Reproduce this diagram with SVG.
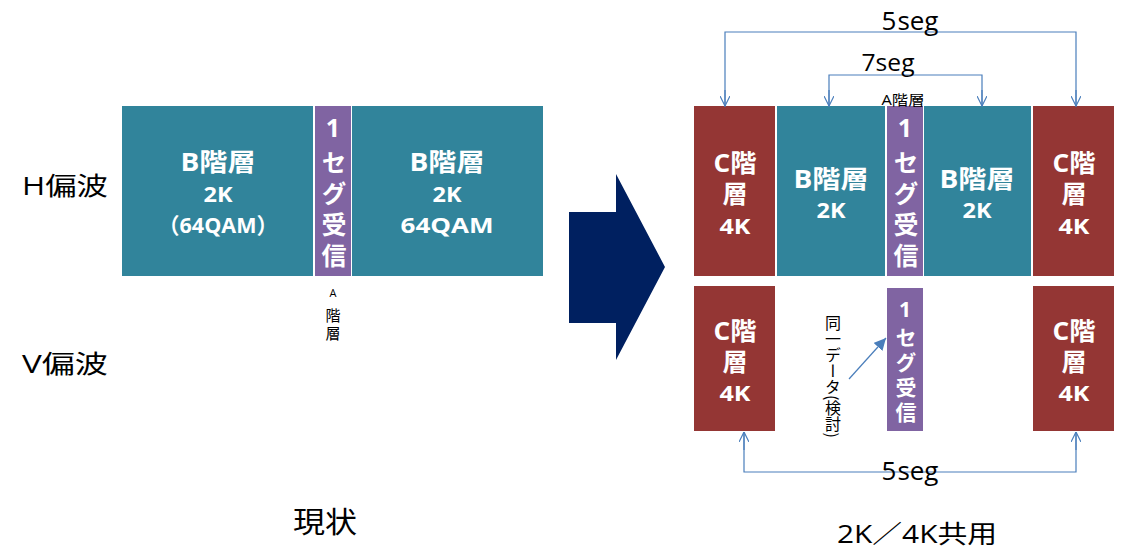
<svg xmlns="http://www.w3.org/2000/svg" width="1124" height="555" viewBox="0 0 1124 555">
<defs>
<style>
.b{fill:#31849b}
.c{fill:#943634}
.p{fill:#8064a2}
.w{fill:#fff;font-family:"Open Sans","Noto Sans CJK JP",sans-serif;font-weight:bold;text-anchor:middle}
.k{fill:#000;font-family:"Open Sans","Noto Sans CJK JP",sans-serif;text-anchor:middle}
.v{fill:#fff;font-family:"Open Sans","Noto Sans CJK JP",sans-serif;font-weight:bold;writing-mode:vertical-rl;text-orientation:upright}
.ln{fill:none;stroke:#4a7ebb;stroke-width:1.2}
</style>
<marker id="oa" viewBox="0 0 10 10" refX="10" refY="5" markerWidth="10" markerHeight="10" markerUnits="userSpaceOnUse" orient="auto">
<path d="M0,0 L10,5 L0,10" fill="none" stroke="#4a7ebb" stroke-width="1.2"/>
</marker>
<marker id="fa" viewBox="0 0 10 10" refX="10" refY="5" markerWidth="12" markerHeight="12" markerUnits="userSpaceOnUse" orient="auto">
<path d="M0,0 L10,5 L0,10 z" fill="#4a7ebb"/>
</marker>
</defs>
<rect width="1124" height="555" fill="#fff"/>

<text class="k" x="65" y="195" font-size="25" textLength="86" lengthAdjust="spacingAndGlyphs">H偏波</text>
<text class="k" x="65" y="373" font-size="25" textLength="86" lengthAdjust="spacingAndGlyphs">V偏波</text>
<text class="k" x="325" y="533" font-size="29" textLength="64" lengthAdjust="spacingAndGlyphs">現状</text>
<text class="k" x="917" y="543" font-size="25" textLength="160" lengthAdjust="spacingAndGlyphs">2K／4K共用</text>

<g id="left-b1">
<rect class="b" x="122" y="106" width="191" height="170"/>
<text class="w" x="218" y="171" font-size="25" textLength="75" lengthAdjust="spacingAndGlyphs">B階層</text>
<text class="w" x="218" y="202" font-size="21" textLength="29" lengthAdjust="spacingAndGlyphs">2K</text>
<text class="w" x="218" y="233" font-size="22" textLength="120" lengthAdjust="spacingAndGlyphs">（64QAM）</text>
</g>
<g id="left-a">
<rect class="p" x="315" y="106" width="36" height="170"/>
<text class="v" x="333" y="110" font-size="25" letter-spacing="6">1セグ受信</text>
<text class="k" x="333" y="297" font-size="11">A</text>
<text class="k" x="333" y="321" font-size="15">階</text>
<text class="k" x="333" y="339" font-size="15">層</text>
</g>
<g id="left-b2">
<rect class="b" x="352" y="106" width="191" height="170"/>
<text class="w" x="447" y="171" font-size="25" textLength="75" lengthAdjust="spacingAndGlyphs">B階層</text>
<text class="w" x="447" y="202" font-size="21" textLength="29" lengthAdjust="spacingAndGlyphs">2K</text>
<text class="w" x="447" y="233" font-size="22" textLength="93" lengthAdjust="spacingAndGlyphs">64QAM</text>
</g>

<g id="big-arrow">
<polygon points="569,212 616,212 616,174 665,267 616,360 616,323 569,323" fill="#002060"/>
</g>

<g id="r-c1">
<rect class="c" x="694" y="106" width="81" height="170"/>
<text class="w" x="735" y="172" font-size="25" textLength="43" lengthAdjust="spacingAndGlyphs">C階</text>
<text class="w" x="735" y="203" font-size="25">層</text>
<text class="w" x="735" y="234" font-size="21" textLength="31" lengthAdjust="spacingAndGlyphs">4K</text>
</g>
<g id="r-b1">
<rect class="b" x="777" y="106" width="108" height="170"/>
<text class="w" x="831" y="188" font-size="25" textLength="75" lengthAdjust="spacingAndGlyphs">B階層</text>
<text class="w" x="831" y="218" font-size="21" textLength="29" lengthAdjust="spacingAndGlyphs">2K</text>
</g>
<g id="r-a">
<rect class="p" x="887" y="106" width="36" height="170"/>
<text class="v" x="905" y="110" font-size="25" letter-spacing="6">1セグ受信</text>
<text class="k" x="903" y="105" font-size="14" textLength="43" lengthAdjust="spacingAndGlyphs">A階層</text>
</g>
<g id="r-b2">
<rect class="b" x="924" y="106" width="107" height="170"/>
<text class="w" x="977" y="188" font-size="25" textLength="75" lengthAdjust="spacingAndGlyphs">B階層</text>
<text class="w" x="977" y="218" font-size="21" textLength="29" lengthAdjust="spacingAndGlyphs">2K</text>
</g>
<g id="r-c2">
<rect class="c" x="1033" y="106" width="81" height="170"/>
<text class="w" x="1074" y="172" font-size="25" textLength="43" lengthAdjust="spacingAndGlyphs">C階</text>
<text class="w" x="1074" y="203" font-size="25">層</text>
<text class="w" x="1074" y="234" font-size="21" textLength="31" lengthAdjust="spacingAndGlyphs">4K</text>
</g>

<g id="v-c1">
<rect class="c" x="694" y="286" width="81" height="145"/>
<text class="w" x="735" y="340" font-size="25" textLength="43" lengthAdjust="spacingAndGlyphs">C階</text>
<text class="w" x="735" y="371" font-size="25">層</text>
<text class="w" x="735" y="401" font-size="21" textLength="31" lengthAdjust="spacingAndGlyphs">4K</text>
</g>
<g id="v-a">
<rect class="p" x="887" y="288" width="36" height="143"/>
<text class="v" x="905" y="295" font-size="21" letter-spacing="4">1セグ受信</text>
</g>
<g id="v-c2">
<rect class="c" x="1033" y="286" width="81" height="145"/>
<text class="w" x="1074" y="340" font-size="25" textLength="43" lengthAdjust="spacingAndGlyphs">C階</text>
<text class="w" x="1074" y="371" font-size="25">層</text>
<text class="w" x="1074" y="401" font-size="21" textLength="31" lengthAdjust="spacingAndGlyphs">4K</text>
</g>

<g id="note">
<text x="833" y="315" font-size="16" writing-mode="vertical-rl" font-family="'Noto Sans CJK JP',sans-serif" fill="#000">同一データ(検討)</text>
</g>

<g id="connectors">
<polyline class="ln" points="725,107 725,32 1076,32 1076,107"/>
<line class="ln" x1="725" y1="90" x2="725" y2="106" marker-end="url(#oa)"/>
<line class="ln" x1="1076" y1="90" x2="1076" y2="106" marker-end="url(#oa)"/>
<polyline class="ln" points="829,107 829,75 982,75 982,107"/>
<line class="ln" x1="829" y1="90" x2="829" y2="106" marker-end="url(#oa)"/>
<line class="ln" x1="982" y1="90" x2="982" y2="106" marker-end="url(#oa)"/>
<polyline class="ln" points="744,432 744,472 1076,472 1076,432"/>
<line class="ln" x1="744" y1="450" x2="744" y2="432" marker-end="url(#oa)"/>
<line class="ln" x1="1076" y1="450" x2="1076" y2="432" marker-end="url(#oa)"/>
<line class="ln" x1="849" y1="379" x2="886" y2="338" marker-end="url(#fa)"/>
</g>
<text class="k" x="910" y="30" font-size="26">5<tspan dx="1">seg</tspan></text>
<text class="k" x="888" y="71" font-size="24" textLength="53" lengthAdjust="spacingAndGlyphs">7seg</text>
<text class="k" x="910" y="480" font-size="26">5<tspan dx="1">seg</tspan></text>
</svg>
